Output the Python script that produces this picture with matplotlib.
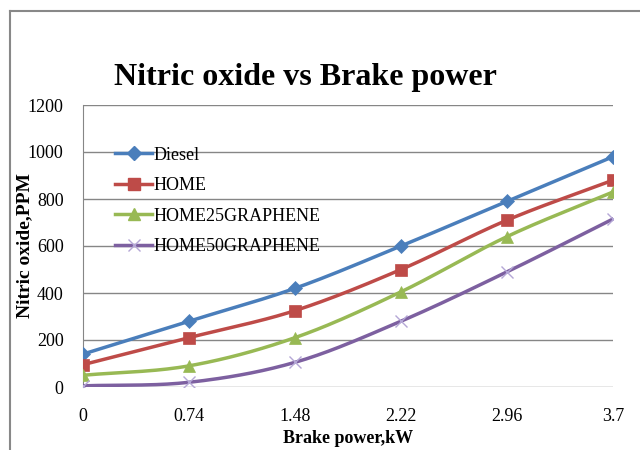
"""
nitric oxide vs brake power, excel style line chart
output: out.png
"""

import numpy as np
import matplotlib.pyplot as plt
from matplotlib.lines import Line2D

# -- DATA --
brake_power = ["0", "0.74", "1.48", "2.22", "2.96", "3.7"]
diesel = [140, 280, 420, 600, 790, 980]
home = [95, 210, 325, 500, 710, 880]
home25 = [50, 90, 210, 405, 640, 830]
home50 = [5, 20, 105, 280, 490, 715]
series_names = ["Diesel", "HOME", "HOME25GRAPHENE", "HOME50GRAPHENE"]


def smooth(x, y, n=30, t=0.5):
    # catmull-rom style curve through the points, like excel's smoothed line
    x = np.asarray(x, float)
    y = np.asarray(y, float)
    px = np.concatenate([[2 * x[0] - x[1]], x, [2 * x[-1] - x[-2]]])
    py = np.concatenate([[2 * y[0] - y[1]], y, [2 * y[-1] - y[-2]]])
    xs, ys = [], []
    s = np.linspace(0, 1, n)
    for i in range(1, len(px) - 2):
        p0, p1, p2, p3 = [np.array([px[j], py[j]]) for j in range(i - 1, i + 3)]
        c1 = p1 + (p2 - p0) * t / 3
        c2 = p2 - (p3 - p1) * t / 3
        b = ((1 - s) ** 3)[:, None] * p1 + (3 * (1 - s) ** 2 * s)[:, None] * c1 \
            + (3 * (1 - s) * s ** 2)[:, None] * c2 + (s ** 3)[:, None] * p2
        xs.append(b[:, 0])
        ys.append(b[:, 1])
    return np.concatenate(xs), np.concatenate(ys)


# -- PLOT --
plt.rcParams["font.family"] = ["Liberation Serif", "DejaVu Serif"]

fig = plt.figure(figsize=(6.4, 4.5), dpi=100)
ax = fig.add_axes([83 / 640, 1 - 387 / 450, 530 / 640, 282 / 450])

xpos = np.arange(len(brake_power))
styles = [
    (diesel, "#4A7EBB", "D", 7.5, "#4A7EBB"),
    (home, "#BE4B48", "s", 9, "#BE4B48"),
    (home25, "#98B954", "^", 9, "#98B954"),
    (home50, "#7D60A0", "x", 9, "#B4A7D6"),
]

handles = []
for (vals, color, marker, ms, mcolor), name in zip(styles, series_names):
    sx, sy = smooth(xpos, vals)
    ax.plot(sx, sy, color=color, linewidth=2.5, zorder=3)
    ax.plot(xpos, vals, linestyle="none", marker=marker, markersize=ms,
            color=mcolor, markeredgecolor=mcolor,
            markeredgewidth=1.0 if marker == "x" else 0.5, zorder=4)
    handles.append(Line2D([0], [0], color=color, linewidth=2.5, marker=marker,
                          markersize=ms, markerfacecolor=mcolor, markeredgecolor=mcolor,
                          label=name))

ax.set_xlim(0, len(brake_power) - 1)
ax.set_ylim(0, 1200)
ax.set_yticks(np.arange(0, 1201, 200))
ax.set_xticks(xpos)
ax.set_xticklabels(brake_power)
ax.tick_params(axis="both", length=0, labelsize=13)
ax.tick_params(axis="y", pad=14)
ax.tick_params(axis="x", pad=15)
ax.grid(axis="y", color="#868686", linewidth=1)
ax.set_axisbelow(True)
for side in ["top", "right", "bottom"]:
    ax.spines[side].set_visible(False)
ax.spines["left"].set_color("#868686")

ax.set_ylabel("Nitric oxide,PPM", fontsize=14, fontweight="bold")
ax.yaxis.set_label_coords(-0.094, 0.5)
ax.set_xlabel("Brake power,kW", fontsize=13, fontweight="bold", labelpad=4)

fig.text(305 / 640, 1 - 78 / 450, "Nitric oxide vs Brake power",
         fontsize=23, fontweight="bold", ha="center", va="center")

ax.legend(handles=handles, loc="upper left", bbox_to_anchor=(0.03, 0.91),
          frameon=False, fontsize=13, handlelength=2.05, handletextpad=0.1,
          labelspacing=0.75)

# outer chart border (top and left visible)
fig.add_artist(Line2D([10 / 640, 10 / 640], [0, 1 - 11 / 450], color="#888888",
                      linewidth=1.5, transform=fig.transFigure))
fig.add_artist(Line2D([10 / 640, 1], [1 - 11 / 450, 1 - 11 / 450], color="#888888",
                      linewidth=1.5, transform=fig.transFigure))

fig.savefig("out.png", dpi=100)
